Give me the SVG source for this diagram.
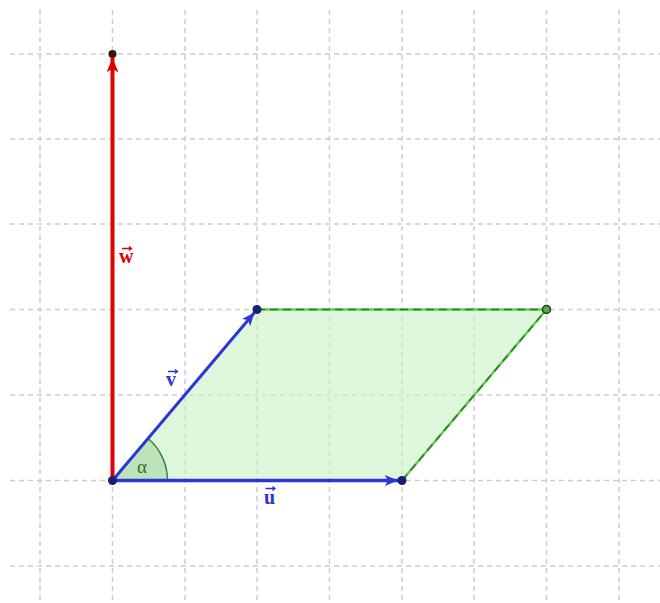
<svg xmlns="http://www.w3.org/2000/svg" width="660" height="603" viewBox="0 0 660 603">
<style>
.grid line{stroke:#cdcdcd;stroke-width:1.5;stroke-dasharray:5 4}
.vec{fill:none;stroke-linecap:butt}
.lbl{font-family:"Liberation Serif","DejaVu Serif",serif;font-weight:bold;font-size:20px}
.acc{stroke-width:1.3;fill:none}
</style>
<defs>
<marker id="ab" viewBox="0 0 12 10" refX="12" refY="5" markerWidth="14" markerHeight="11" markerUnits="userSpaceOnUse" orient="auto">
<path d="M0,0 L12,5 L0,10 L3,5 Z" fill="#2b36d9"/>
</marker>
<marker id="ar" viewBox="0 0 12 10" refX="12" refY="5" markerWidth="15" markerHeight="12" markerUnits="userSpaceOnUse" orient="auto">
<path d="M0,0 L12,5 L0,10 L3,5 Z" fill="#e00000"/>
</marker>
</defs>
<rect width="660" height="603" fill="#ffffff"/>
<g id="grid" class="grid">
<line x1="40" y1="10" x2="40" y2="603"/>
<line x1="112.5" y1="10" x2="112.5" y2="603"/>
<line x1="185" y1="10" x2="185" y2="603"/>
<line x1="257" y1="10" x2="257" y2="603"/>
<line x1="329.5" y1="10" x2="329.5" y2="603"/>
<line x1="402" y1="10" x2="402" y2="603"/>
<line x1="474" y1="10" x2="474" y2="603"/>
<line x1="546.5" y1="10" x2="546.5" y2="603"/>
<line x1="619" y1="10" x2="619" y2="603"/>
<line x1="10" y1="54" x2="660" y2="54"/>
<line x1="10" y1="139" x2="660" y2="139"/>
<line x1="10" y1="224" x2="660" y2="224"/>
<line x1="10" y1="309.5" x2="660" y2="309.5"/>
<line x1="10" y1="395" x2="660" y2="395"/>
<line x1="10" y1="480.5" x2="660" y2="480.5"/>
<line x1="10" y1="566" x2="660" y2="566"/>
</g>
<g id="parallelogram">
<polygon points="112.5,480.5 402,480.5 546.5,309.5 257,309.5" fill="#c8f0c4" fill-opacity="0.6"/>
<path d="M257,309.5 L546.5,309.5 M402,480.5 L546.5,309.5" fill="none" stroke="#66cc55" stroke-width="2.5"/>
<path d="M257,309.5 L546.5,309.5 M402,480.5 L546.5,309.5" fill="none" stroke="#2f7a2a" stroke-width="1.5" stroke-dasharray="8 5"/>
</g>
<g id="angle">
<path d="M112.5,480.5 L167.5,480.5 A55,55 0 0 0 148.1,438.5 Z" fill="#7fbf7a" fill-opacity="0.35"/>
<path d="M167.5,480.5 A55,55 0 0 0 148.1,438.5" fill="none" stroke="#3f7f3f" stroke-width="1.5"/>
<text x="137" y="473" font-family="Liberation Serif,DejaVu Serif,serif" font-size="19" fill="#2e6e2e">α</text>
</g>
<g id="connectors">
<line id="vec-w" class="vec" x1="112.5" y1="480.5" x2="112.5" y2="58" stroke="#e00000" stroke-width="4" marker-end="url(#ar)"/>
<line id="vec-u" class="vec" x1="112.5" y1="480.5" x2="398" y2="480.5" stroke="#2b36d9" stroke-width="3.5" marker-end="url(#ab)"/>
<line id="vec-v" class="vec" x1="112.5" y1="480.5" x2="254.5" y2="312.5" stroke="#2b36d9" stroke-width="3" marker-end="url(#ab)"/>
</g>
<g id="points">
<circle id="pO" cx="112.5" cy="480.5" r="4.5" fill="#1a1f6e"/>
<circle id="pU" cx="402" cy="480.5" r="4.5" fill="#1a1f6e"/>
<circle id="pV" cx="257" cy="309.5" r="4.5" fill="#1a1f6e"/>
<circle id="pW" cx="112.5" cy="54" r="4" fill="#3a1010"/>
<circle id="pS" cx="546.5" cy="309.5" r="4" fill="#55aa44" stroke="#1f3f1a" stroke-width="1.5"/>
</g>
<g id="labels">
<text class="lbl" x="119" y="263" fill="#e00000">w</text>
<path class="acc" d="M122,248.5 L131.5,248.5 M129,246.5 L131.5,248.5 L129,250.5" stroke="#e00000"/>
<text class="lbl" x="166" y="386" fill="#2b36d9">v</text>
<path class="acc" d="M168,371.5 L177.5,371.5 M175,369.5 L177.5,371.5 L175,373.5" stroke="#2b36d9"/>
<text class="lbl" x="264" y="504" fill="#2b36d9">u</text>
<path class="acc" d="M265.5,488.5 L275,488.5 M272.5,486.5 L275,488.5 L272.5,490.5" stroke="#2b36d9"/>
</g>
</svg>
